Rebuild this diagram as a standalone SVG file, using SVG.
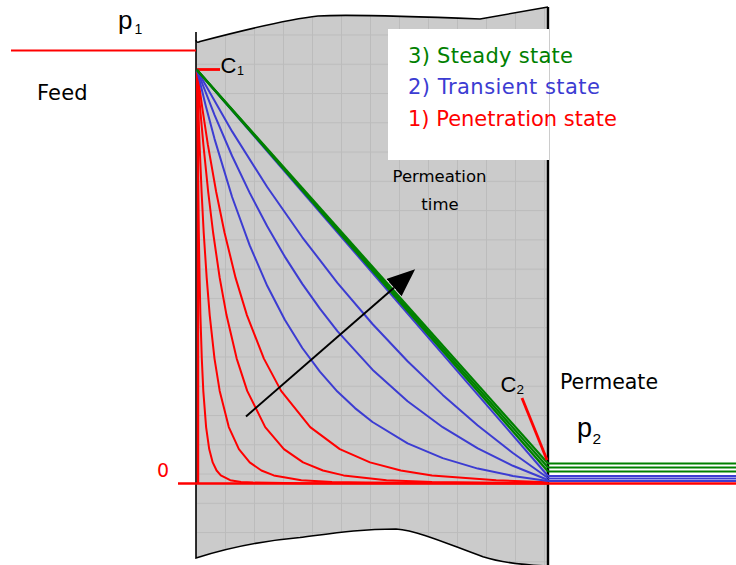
<svg xmlns="http://www.w3.org/2000/svg" width="736" height="565" viewBox="0 0 736 565">
<style>
.comic{font-family:"Comic Sans MS","DejaVu Sans",sans-serif}
.arial{font-family:"Liberation Sans",Arial,sans-serif}
.r{fill:none;stroke:#ff0000;stroke-width:2;stroke-linejoin:round}
.b{fill:none;stroke:#3c3cd2;stroke-width:2;stroke-linejoin:round}
.g{fill:none;stroke:#008000;stroke-width:2.2}
.edge{fill:none;stroke:#000;stroke-width:1.6}
</style>
<defs>
<pattern id="grid" patternUnits="userSpaceOnUse" x="196" y="5.2" width="29" height="29.27">
<rect width="29" height="29.27" fill="#cbcbcb"/>
<rect width="29" height="1" fill="#bcbcbc"/>
<rect width="1" height="29.27" fill="#bcbcbc"/>
</pattern>
<marker id="ah" markerUnits="userSpaceOnUse" markerWidth="30" markerHeight="24" refX="0" refY="11.5" orient="auto">
<path d="M0,0 L28,11.5 L0,23 Z" fill="#000"/>
</marker>
</defs>
<rect width="736" height="565" fill="#fff"/>
<g id="membrane">
<path d="M196,40 Q196.5,43.5 200,41.5 C240,31 290,19 318,16 C350,14 430,17 480,19 L548,7 L548,566 C520,565 500,562 483,556.7 C450,545 420,531 396,529 C360,529 335,533 300,537.5 C260,541 230,547 196,558 Z" fill="url(#grid)"/>
<path class="edge" d="M196,32 V40 Q196.5,43.5 200,41.5 C240,31 290,19 318,16 C350,14 430,17 480,19 L548,7"/>
<path class="edge" d="M196,40 V558 C230,547 260,541 300,537.5 C335,533 360,529 396,529 C420,531 450,545 483,556.7 C500,562 520,565 548,566"/>
<line x1="548" y1="7" x2="548" y2="565" stroke="#000" stroke-width="2.4"/>
</g>
<g id="connectors">
<line class="r" x1="11" y1="50.5" x2="196" y2="50.5"/>
<line x1="178" y1="483.5" x2="736" y2="483.5" stroke="#ff0000" stroke-width="2.6"/>
<line x1="198" y1="69.5" x2="198" y2="484" stroke="#ff0000" stroke-width="2.4"/>
<line x1="197" y1="69.5" x2="220" y2="69.5" stroke="#ff0000" stroke-width="2.8"/>
<path class="r" d="M197,70 L197.3,109.3 L197.7,144.9 L198.2,192 L198.8,232.5 L199.6,277.9 L200.4,315.1 L201.8,358.6 L203.3,390.9 L206.1,427.1 L209.2,449.1 L212.7,462.4 L216.6,470.5 L220.8,475.4 L230.2,480.2 L241,482 L253.2,482.6 L300,483.2 L548,483.3"/>
<path class="r" d="M197,70 L198.3,109.3 L199.6,144.9 L201.6,192 L203.7,232.5 L206.7,277.9 L209.7,315.1 L214.5,358.6 L219.7,390.9 L228.8,427.1 L238.9,449.1 L249.7,462.4 L261.4,470.5 L273.8,475.4 L301.3,480.2 L332,482 L365.9,482.6 L548,483.3"/>
<path class="r" d="M197,70 L200.2,109.3 L203.4,144.9 L208.2,192 L213.1,232.5 L219.7,277.9 L226.5,315.1 L236.7,358.6 L247.2,390.9 L265.2,427.1 L283.9,449.1 L303.1,462.4 L323,470.5 L343.6,475.4 L386.5,480.2 L432,482 L480,482.6 L548,483.2"/>
<path class="r" d="M197,70 L202.5,109.3 L207.9,144.9 L216.2,192 L224.5,232.5 L235.6,277.9 L246.9,315.1 L263.9,358.6 L281.1,390.9 L310.2,427.1 L339.8,449.1 L370,462.4 L400.8,470.5 L432,475.4 L496.2,480.2 L548,482.3"/>
<path class="b" d="M197,70 L205.8,106.1 L214.6,139.1 L232.1,197 L249.7,245.4 L267.2,285.8 L284.8,319.8 L302.3,348 L319.9,371.7 L337.4,391.6 L355,408.1 L372.5,422 L407.6,443.3 L442.7,458.1 L477.8,468.6 L512.9,475.9 L548,481"/>
<path class="b" d="M197,70 L214.6,115.1 L232.1,156 L249.7,192.9 L267.2,226.3 L284.8,256.6 L302.3,283.9 L319.9,308.7 L337.4,331.1 L372.5,369.7 L407.6,401.3 L442.7,427.2 L477.8,448.4 L512.9,465.8 L548,480"/>
<path class="b" d="M197,70 L232.1,131.4 L267.2,187 L302.3,237.3 L337.4,282.8 L372.5,324 L407.6,361.2 L442.7,394.9 L477.8,425.5 L512.9,453 L548,478"/>
<line class="b" x1="197" y1="70" x2="548" y2="476"/>
<line class="g" x1="197" y1="70" x2="548" y2="471.5"/>
<line class="g" x1="197" y1="70" x2="548" y2="467.5"/>
<line class="g" x1="197" y1="70" x2="548" y2="463.5"/>
<line class="b" x1="548" y1="481" x2="736" y2="481"/>
<line class="b" x1="548" y1="478.5" x2="736" y2="478.5"/>
<line class="b" x1="548" y1="476" x2="736" y2="476"/>
<line class="g" x1="548" y1="471.5" x2="736" y2="471.5"/>
<line class="g" x1="548" y1="467.5" x2="736" y2="467.5"/>
<line class="g" x1="548" y1="463.5" x2="736" y2="463.5"/>
<line x1="522" y1="398" x2="547" y2="460" stroke="#ff0000" stroke-width="2.8"/>
<line x1="246" y1="416.5" x2="394" y2="287.7" stroke="#000" stroke-width="2" marker-end="url(#ah)"/>
</g>
<g id="legend">
<rect x="388" y="29" width="161" height="131" fill="#fff"/>
<text class="comic" x="408" y="62.7" font-size="21" fill="#008000" textLength="165">3) Steady state</text>
<text class="comic" x="408" y="94" font-size="21" fill="#3c3cd2" textLength="192">2) Transient state</text>
<text class="comic" x="408" y="126" font-size="21" fill="#ff0000" textLength="209">1) Penetration state</text>
</g>
<g id="labels">
<text class="comic" x="37" y="100" font-size="21" fill="#000" textLength="50.6">Feed</text>
<text class="comic" x="560" y="389" font-size="20.5" fill="#000" textLength="98">Permeate</text>
<text class="comic" x="439.5" y="182" font-size="16.5" fill="#000" text-anchor="middle">Permeation</text>
<text class="comic" x="440" y="210" font-size="16.5" fill="#000" text-anchor="middle">time</text>
<text class="comic" x="157" y="477" font-size="19" fill="#ff0000">0</text>
<text class="arial" x="118" y="28.5" font-size="26" fill="#000">p</text>
<text class="arial" x="134.5" y="34" font-size="14" fill="#000">1</text>
<text class="arial" x="220.5" y="73.3" font-size="22" fill="#000">C</text>
<text class="arial" x="237" y="75" font-size="12.5" fill="#000">1</text>
<text class="arial" x="500.5" y="391.7" font-size="22" fill="#000">C</text>
<text class="arial" x="516.5" y="393.5" font-size="13.5" fill="#000">2</text>
<text class="arial" x="577" y="437" font-size="27" fill="#000">p</text>
<text class="arial" x="592.5" y="443.5" font-size="15.5" fill="#000">2</text>
</g>
</svg>
